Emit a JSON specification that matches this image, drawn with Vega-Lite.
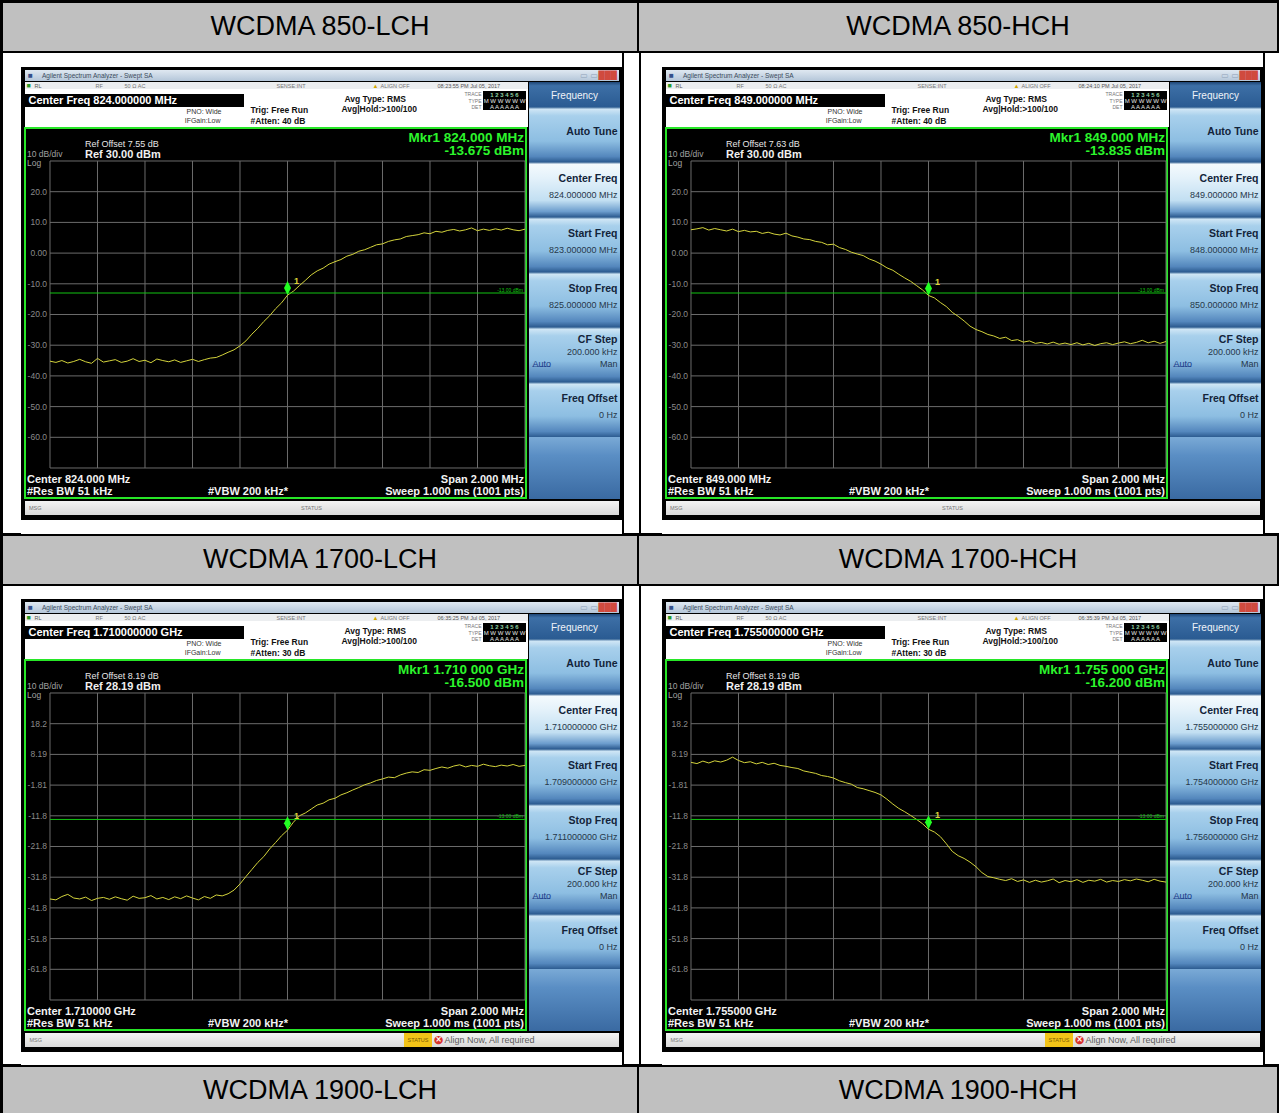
{
"$schema":"https://vega.github.io/schema/vega-lite/v6.json",
"background":"#000000",
"padding":{"left":3,"top":3,"right":2,"bottom":0},
"config":{"view":{"stroke":null},"font":"Liberation Sans","text":{"font":"Liberation Sans"}},
"datasets":{
"t1":[{"f":823.000,"db":-35.2},{"f":823.025,"db":-35.6},{"f":823.050,"db":-35.0},{"f":823.075,"db":-35.8},{"f":823.100,"db":-35.3},{"f":823.125,"db":-34.6},{"f":823.150,"db":-35.4},{"f":823.175,"db":-35.9},{"f":823.200,"db":-34.3},{"f":823.225,"db":-35.5},{"f":823.250,"db":-35.1},{"f":823.275,"db":-34.7},{"f":823.300,"db":-35.6},{"f":823.325,"db":-35.2},{"f":823.350,"db":-34.4},{"f":823.375,"db":-35.3},{"f":823.400,"db":-34.9},{"f":823.425,"db":-35.7},{"f":823.450,"db":-34.5},{"f":823.475,"db":-35.0},{"f":823.500,"db":-35.4},{"f":823.525,"db":-34.8},{"f":823.550,"db":-35.6},{"f":823.575,"db":-35.1},{"f":823.600,"db":-34.6},{"f":823.625,"db":-35.3},{"f":823.650,"db":-34.7},{"f":823.675,"db":-34.2},{"f":823.700,"db":-34.0},{"f":823.725,"db":-33.2},{"f":823.750,"db":-32.3},{"f":823.775,"db":-31.5},{"f":823.800,"db":-30.2},{"f":823.825,"db":-28.6},{"f":823.850,"db":-26.4},{"f":823.875,"db":-24.5},{"f":823.900,"db":-22.3},{"f":823.925,"db":-20.4},{"f":823.950,"db":-18.1},{"f":823.975,"db":-16.2},{"f":824.000,"db":-13.7},{"f":824.025,"db":-12.4},{"f":824.050,"db":-10.6},{"f":824.075,"db":-8.9},{"f":824.100,"db":-7.1},{"f":824.125,"db":-5.8},{"f":824.150,"db":-4.9},{"f":824.175,"db":-3.6},{"f":824.200,"db":-2.8},{"f":824.225,"db":-2.1},{"f":824.250,"db":-1.0},{"f":824.275,"db":-0.4},{"f":824.300,"db":0.6},{"f":824.325,"db":1.1},{"f":824.350,"db":1.9},{"f":824.375,"db":2.7},{"f":824.400,"db":3.0},{"f":824.425,"db":3.8},{"f":824.450,"db":4.3},{"f":824.475,"db":4.6},{"f":824.500,"db":5.4},{"f":824.525,"db":5.7},{"f":824.550,"db":6.0},{"f":824.575,"db":6.6},{"f":824.600,"db":6.3},{"f":824.625,"db":7.1},{"f":824.650,"db":6.8},{"f":824.675,"db":7.4},{"f":824.700,"db":7.7},{"f":824.725,"db":7.2},{"f":824.750,"db":7.6},{"f":824.775,"db":8.2},{"f":824.800,"db":7.3},{"f":824.825,"db":7.8},{"f":824.850,"db":7.4},{"f":824.875,"db":7.9},{"f":824.900,"db":7.5},{"f":824.925,"db":8.1},{"f":824.950,"db":7.6},{"f":824.975,"db":7.3},{"f":825.000,"db":7.8}],
"t2":[{"f":848.000,"db":7.6},{"f":848.025,"db":7.9},{"f":848.050,"db":8.3},{"f":848.075,"db":7.5},{"f":848.100,"db":8.0},{"f":848.125,"db":7.6},{"f":848.150,"db":7.2},{"f":848.175,"db":7.8},{"f":848.200,"db":7.0},{"f":848.225,"db":7.4},{"f":848.250,"db":6.9},{"f":848.275,"db":7.1},{"f":848.300,"db":6.4},{"f":848.325,"db":6.8},{"f":848.350,"db":6.2},{"f":848.375,"db":5.9},{"f":848.400,"db":6.5},{"f":848.425,"db":5.6},{"f":848.450,"db":5.2},{"f":848.475,"db":4.6},{"f":848.500,"db":4.4},{"f":848.525,"db":3.8},{"f":848.550,"db":3.5},{"f":848.575,"db":2.7},{"f":848.600,"db":2.9},{"f":848.625,"db":1.8},{"f":848.650,"db":1.2},{"f":848.675,"db":0.3},{"f":848.700,"db":-0.3},{"f":848.725,"db":-0.8},{"f":848.750,"db":-1.9},{"f":848.775,"db":-2.6},{"f":848.800,"db":-3.6},{"f":848.825,"db":-4.8},{"f":848.850,"db":-5.6},{"f":848.875,"db":-6.9},{"f":848.900,"db":-8.1},{"f":848.925,"db":-9.2},{"f":848.950,"db":-10.6},{"f":848.975,"db":-12.0},{"f":849.000,"db":-13.8},{"f":849.025,"db":-14.6},{"f":849.050,"db":-16.1},{"f":849.075,"db":-17.4},{"f":849.100,"db":-19.3},{"f":849.125,"db":-20.6},{"f":849.150,"db":-22.1},{"f":849.175,"db":-23.8},{"f":849.200,"db":-24.9},{"f":849.225,"db":-25.6},{"f":849.250,"db":-26.5},{"f":849.275,"db":-27.0},{"f":849.300,"db":-27.8},{"f":849.325,"db":-27.4},{"f":849.350,"db":-28.5},{"f":849.375,"db":-28.2},{"f":849.400,"db":-29.0},{"f":849.425,"db":-28.6},{"f":849.450,"db":-29.4},{"f":849.475,"db":-29.1},{"f":849.500,"db":-29.6},{"f":849.525,"db":-29.0},{"f":849.550,"db":-29.7},{"f":849.575,"db":-29.3},{"f":849.600,"db":-29.8},{"f":849.625,"db":-29.2},{"f":849.650,"db":-29.9},{"f":849.675,"db":-29.4},{"f":849.700,"db":-30.1},{"f":849.725,"db":-29.5},{"f":849.750,"db":-29.2},{"f":849.775,"db":-29.8},{"f":849.800,"db":-29.3},{"f":849.825,"db":-28.9},{"f":849.850,"db":-29.5},{"f":849.875,"db":-29.1},{"f":849.900,"db":-28.4},{"f":849.925,"db":-29.2},{"f":849.950,"db":-28.7},{"f":849.975,"db":-29.4},{"f":850.000,"db":-28.8}],
"t3":[{"f":1709.000,"db":-38.9},{"f":1709.025,"db":-39.2},{"f":1709.050,"db":-38.1},{"f":1709.075,"db":-37.4},{"f":1709.100,"db":-38.6},{"f":1709.125,"db":-38.9},{"f":1709.150,"db":-38.3},{"f":1709.175,"db":-39.4},{"f":1709.200,"db":-38.7},{"f":1709.225,"db":-38.4},{"f":1709.250,"db":-39.0},{"f":1709.275,"db":-38.2},{"f":1709.300,"db":-38.8},{"f":1709.325,"db":-39.3},{"f":1709.350,"db":-38.0},{"f":1709.375,"db":-38.7},{"f":1709.400,"db":-38.5},{"f":1709.425,"db":-37.8},{"f":1709.450,"db":-38.9},{"f":1709.475,"db":-38.4},{"f":1709.500,"db":-39.1},{"f":1709.525,"db":-38.2},{"f":1709.550,"db":-38.8},{"f":1709.575,"db":-37.9},{"f":1709.600,"db":-38.6},{"f":1709.625,"db":-39.2},{"f":1709.650,"db":-38.1},{"f":1709.675,"db":-38.7},{"f":1709.700,"db":-37.6},{"f":1709.725,"db":-37.9},{"f":1709.750,"db":-37.2},{"f":1709.775,"db":-36.0},{"f":1709.800,"db":-34.0},{"f":1709.825,"db":-31.6},{"f":1709.850,"db":-29.3},{"f":1709.875,"db":-27.0},{"f":1709.900,"db":-25.1},{"f":1709.925,"db":-22.6},{"f":1709.950,"db":-20.5},{"f":1709.975,"db":-18.3},{"f":1710.000,"db":-16.5},{"f":1710.025,"db":-13.9},{"f":1710.050,"db":-11.8},{"f":1710.075,"db":-10.9},{"f":1710.100,"db":-9.6},{"f":1710.125,"db":-8.3},{"f":1710.150,"db":-7.7},{"f":1710.175,"db":-6.6},{"f":1710.200,"db":-6.1},{"f":1710.225,"db":-5.0},{"f":1710.250,"db":-4.3},{"f":1710.275,"db":-3.4},{"f":1710.300,"db":-2.6},{"f":1710.325,"db":-1.7},{"f":1710.350,"db":-1.1},{"f":1710.375,"db":-0.3},{"f":1710.400,"db":0.2},{"f":1710.425,"db":0.8},{"f":1710.450,"db":0.6},{"f":1710.475,"db":1.5},{"f":1710.500,"db":2.1},{"f":1710.525,"db":2.5},{"f":1710.550,"db":2.3},{"f":1710.575,"db":3.2},{"f":1710.600,"db":3.0},{"f":1710.625,"db":3.6},{"f":1710.650,"db":4.1},{"f":1710.675,"db":3.7},{"f":1710.700,"db":4.4},{"f":1710.725,"db":4.8},{"f":1710.750,"db":4.1},{"f":1710.775,"db":4.6},{"f":1710.800,"db":4.3},{"f":1710.825,"db":5.0},{"f":1710.850,"db":4.5},{"f":1710.875,"db":4.2},{"f":1710.900,"db":4.7},{"f":1710.925,"db":4.4},{"f":1710.950,"db":4.9},{"f":1710.975,"db":4.3},{"f":1711.000,"db":4.6}],
"t4":[{"f":1754.000,"db":5.6},{"f":1754.025,"db":5.2},{"f":1754.050,"db":6.0},{"f":1754.075,"db":5.4},{"f":1754.100,"db":6.1},{"f":1754.125,"db":5.7},{"f":1754.150,"db":6.3},{"f":1754.175,"db":7.3},{"f":1754.200,"db":6.2},{"f":1754.225,"db":5.5},{"f":1754.250,"db":5.8},{"f":1754.275,"db":5.1},{"f":1754.300,"db":5.6},{"f":1754.325,"db":4.9},{"f":1754.350,"db":5.3},{"f":1754.375,"db":4.6},{"f":1754.400,"db":4.3},{"f":1754.425,"db":3.9},{"f":1754.450,"db":3.6},{"f":1754.475,"db":2.8},{"f":1754.500,"db":2.4},{"f":1754.525,"db":2.0},{"f":1754.550,"db":1.3},{"f":1754.575,"db":1.0},{"f":1754.600,"db":0.5},{"f":1754.625,"db":-0.4},{"f":1754.650,"db":-1.0},{"f":1754.675,"db":-1.5},{"f":1754.700,"db":-2.6},{"f":1754.725,"db":-3.0},{"f":1754.750,"db":-3.6},{"f":1754.775,"db":-4.2},{"f":1754.800,"db":-5.0},{"f":1754.825,"db":-6.4},{"f":1754.850,"db":-8.0},{"f":1754.875,"db":-9.4},{"f":1754.900,"db":-10.5},{"f":1754.925,"db":-11.7},{"f":1754.950,"db":-13.0},{"f":1754.975,"db":-14.4},{"f":1755.000,"db":-16.2},{"f":1755.025,"db":-17.1},{"f":1755.050,"db":-18.6},{"f":1755.075,"db":-20.9},{"f":1755.100,"db":-23.4},{"f":1755.125,"db":-24.8},{"f":1755.150,"db":-25.7},{"f":1755.175,"db":-26.9},{"f":1755.200,"db":-28.4},{"f":1755.225,"db":-30.3},{"f":1755.250,"db":-31.6},{"f":1755.275,"db":-32.0},{"f":1755.300,"db":-32.5},{"f":1755.325,"db":-32.9},{"f":1755.350,"db":-32.3},{"f":1755.375,"db":-33.2},{"f":1755.400,"db":-32.7},{"f":1755.425,"db":-33.5},{"f":1755.450,"db":-32.8},{"f":1755.475,"db":-33.4},{"f":1755.500,"db":-33.0},{"f":1755.525,"db":-32.4},{"f":1755.550,"db":-33.6},{"f":1755.575,"db":-32.9},{"f":1755.600,"db":-33.3},{"f":1755.625,"db":-32.6},{"f":1755.650,"db":-33.5},{"f":1755.675,"db":-32.8},{"f":1755.700,"db":-33.1},{"f":1755.725,"db":-32.5},{"f":1755.750,"db":-33.4},{"f":1755.775,"db":-32.9},{"f":1755.800,"db":-33.2},{"f":1755.825,"db":-32.6},{"f":1755.850,"db":-33.0},{"f":1755.875,"db":-32.4},{"f":1755.900,"db":-32.8},{"f":1755.925,"db":-33.3},{"f":1755.950,"db":-32.5},{"f":1755.975,"db":-33.1},{"f":1756.000,"db":-33.4}],
"gx1":[{"f":823},{"f":823.2},{"f":823.4},{"f":823.6},{"f":823.8},{"f":824},{"f":824.2},{"f":824.4},{"f":824.6},{"f":824.8},{"f":825}],
"gx2":[{"f":848},{"f":848.2},{"f":848.4},{"f":848.6},{"f":848.8},{"f":849},{"f":849.2},{"f":849.4},{"f":849.6},{"f":849.8},{"f":850}],
"gx3":[{"f":1709},{"f":1709.2},{"f":1709.4},{"f":1709.6},{"f":1709.8},{"f":1710},{"f":1710.2},{"f":1710.4},{"f":1710.6},{"f":1710.8},{"f":1711}],
"gx4":[{"f":1754},{"f":1754.2},{"f":1754.4},{"f":1754.6},{"f":1754.8},{"f":1755},{"f":1755.2},{"f":1755.4},{"f":1755.6},{"f":1755.8},{"f":1756}],
"gyA":[{"db":30,"lab":""},{"db":20,"lab":"20.0"},{"db":10,"lab":"10.0"},{"db":0,"lab":"0.00"},{"db":-10,"lab":"-10.0"},{"db":-20,"lab":"-20.0"},{"db":-30,"lab":"-30.0"},{"db":-40,"lab":"-40.0"},{"db":-50,"lab":"-50.0"},{"db":-60,"lab":"-60.0"},{"db":-70,"lab":""}],
"gyB":[{"db":28.19,"lab":""},{"db":18.19,"lab":"18.2"},{"db":8.19,"lab":"8.19"},{"db":-1.81,"lab":"-1.81"},{"db":-11.81,"lab":"-11.8"},{"db":-21.81,"lab":"-21.8"},{"db":-31.81,"lab":"-31.8"},{"db":-41.81,"lab":"-41.8"},{"db":-51.81,"lab":"-51.8"},{"db":-61.81,"lab":"-61.8"},{"db":-71.81,"lab":""}],
"k1":[{"k":"Auto Tune","v":""},{"k":"Center Freq","v":"824.000000 MHz"},{"k":"Start Freq","v":"823.000000 MHz"},{"k":"Stop Freq","v":"825.000000 MHz"},{"k":"CF Step","v":"200.000 kHz","v2":"Man"},{"k":"Freq Offset","v":"0 Hz"}],
"k2":[{"k":"Auto Tune","v":""},{"k":"Center Freq","v":"849.000000 MHz"},{"k":"Start Freq","v":"848.000000 MHz"},{"k":"Stop Freq","v":"850.000000 MHz"},{"k":"CF Step","v":"200.000 kHz","v2":"Man"},{"k":"Freq Offset","v":"0 Hz"}],
"k3":[{"k":"Auto Tune","v":""},{"k":"Center Freq","v":"1.710000000 GHz"},{"k":"Start Freq","v":"1.709000000 GHz"},{"k":"Stop Freq","v":"1.711000000 GHz"},{"k":"CF Step","v":"200.000 kHz","v2":"Man"},{"k":"Freq Offset","v":"0 Hz"}],
"k4":[{"k":"Auto Tune","v":""},{"k":"Center Freq","v":"1.755000000 GHz"},{"k":"Start Freq","v":"1.754000000 GHz"},{"k":"Stop Freq","v":"1.756000000 GHz"},{"k":"CF Step","v":"200.000 kHz","v2":"Man"},{"k":"Freq Offset","v":"0 Hz"}]
},
"spacing":2,
"vconcat":[
{"hconcat":[
 {"width":634,"height":48,"data":{"values":[{}]},"layer":[{"mark":{"type":"rect","color":"#c0c0c0"}},{"mark":{"type":"text","text":"WCDMA 850-LCH","fontSize":27,"color":"#000000"}}]},
 {"width":638,"height":48,"data":{"values":[{}]},"layer":[{"mark":{"type":"rect","color":"#c0c0c0"}},{"mark":{"type":"text","text":"WCDMA 850-HCH","fontSize":27,"color":"#000000"}}]}
],"spacing":2},
{"hconcat":[
 {"hconcat":[
  {"width":18,"height":480,"data":{"values":[{}]},"mark":{"type":"rect","color":"#ffffff"}},
  {"vconcat":[
   {"width":601,"height":14,"data":{"values":[{}]},"mark":{"type":"rect","color":"#ffffff"}},
   {"hconcat":[
    {"width":3,"height":452,"data":{"values":[]},"mark":"rect"},
    {"vconcat":[
     {"width":594,"height":3,"data":{"values":[]},"mark":"rect"},
     {"width":594,"height":11,"data":{"values":[{}]},"layer":[
      {"mark":{"type":"rect","color":{"gradient":"linear","x1":0,"y1":0,"x2":0,"y2":1,"stops":[{"offset":0,"color":"#dfe8f1"},{"offset":1,"color":"#b4c6d9"}]}}},
      {"mark":{"type":"text","text":"■","fontSize":8,"color":"#34508a","align":"left","dx":-294}},
      {"mark":{"type":"text","text":"Agilent Spectrum Analyzer - Swept SA","fontSize":6.5,"color":"#3a4a5c","align":"left","dx":-280}},
      {"mark":{"type":"text","text":"▭ ▭","font":"DejaVu Sans","fontSize":8,"color":"#8ea2b8","align":"right","dx":276}},
      {"mark":{"type":"text","text":"███","font":"DejaVu Sans","fontSize":8,"color":"#d04a3e","align":"right","dx":295}}
     ]},
     {"hconcat":[
      {"vconcat":[
       {"width":503,"height":7,"data":{"values":[{}]},"layer":[
        {"mark":{"type":"rect","color":"#eceef0"}},
        {"mark":{"type":"text","text":"■","fontSize":7,"color":"#2a9a2a","align":"left","dx":-250}},
        {"mark":{"type":"text","text":"RL","fontSize":5.5,"color":"#555555","align":"left","dx":-242}},
        {"mark":{"type":"text","text":"RF","fontSize":5.5,"color":"#777777","align":"left","dx":-181}},
        {"mark":{"type":"text","text":"50 Ω   AC","fontSize":5.5,"color":"#777777","align":"left","dx":-152}},
        {"mark":{"type":"text","text":"SENSE:INT","fontSize":5.5,"color":"#777777","align":"left","dx":0}},
        {"mark":{"type":"text","text":"▲","fontSize":6,"color":"#d4a800","align":"left","dx":96}},
        {"mark":{"type":"text","text":"ALIGN OFF","fontSize":5.5,"color":"#777777","align":"left","dx":104}},
        {"mark":{"type":"text","text":"08:23:55 PM Jul 05, 2017","fontSize":5.5,"color":"#555555","align":"left","dx":161}}
       ]},
       {"hconcat":[
        {"vconcat":[
         {"width":219,"height":5,"data":{"values":[{}]},"mark":{"type":"rect","color":"#ffffff"}},
         {"width":219,"height":13,"data":{"values":[{}]},"mark":{"type":"text","text":"Center Freq 824.000000 MHz","fontSize":11,"fontWeight":"bold","color":"#ffffff","align":"left","dx":-106}},
         {"width":219,"height":20,"data":{"values":[{}]},"layer":[
          {"mark":{"type":"rect","color":"#ffffff"}},
          {"mark":{"type":"text","text":"PNO: Wide","fontSize":7,"color":"#333333","align":"right","dx":87,"dy":-5}},
          {"mark":{"type":"text","text":"IFGain:Low","fontSize":7,"color":"#333333","align":"right","dx":86,"dy":4}}
         ]}
        ],"spacing":0},
        {"width":239,"height":38,"data":{"values":[{}]},"layer":[
         {"mark":{"type":"rect","color":"#ffffff"}},
         {"mark":{"type":"text","text":"Trig: Free Run","fontSize":8.5,"fontWeight":"bold","color":"#111111","align":"left","dx":-113,"dy":2}},
         {"mark":{"type":"text","text":"#Atten: 40 dB","fontSize":8.5,"fontWeight":"bold","color":"#111111","align":"left","dx":-113,"dy":13}},
         {"mark":{"type":"text","text":"Avg Type: RMS","fontSize":8.5,"fontWeight":"bold","color":"#111111","align":"left","dx":-19,"dy":-9}},
         {"mark":{"type":"text","text":"Avg|Hold:>100/100","fontSize":8.5,"fontWeight":"bold","color":"#111111","align":"left","dx":-22,"dy":1}},
         {"mark":{"type":"text","text":"TRACE","fontSize":5,"color":"#777777","align":"right","dx":118,"dy":-14}},
         {"mark":{"type":"text","text":"TYPE","fontSize":5,"color":"#777777","align":"right","dx":118,"dy":-7.5}},
         {"mark":{"type":"text","text":"DET","fontSize":5,"color":"#777777","align":"right","dx":118,"dy":-1}}
        ]},
        {"vconcat":[
         {"width":43,"height":2,"data":{"values":[{}]},"mark":{"type":"rect","color":"#ffffff"}},
         {"width":43,"height":19,"data":{"values":[{}]},"layer":[
          {"mark":{"type":"text","text":"1 2 3 4 5 6","fontSize":6,"fontWeight":"bold","color":"#8fd0a0","dy":-6}},
          {"mark":{"type":"text","text":"M W W W W W","fontSize":6,"color":"#e8e8e8"}},
          {"mark":{"type":"text","text":"A A A A A A","fontSize":6,"color":"#e8e8e8","dy":6}}
         ]},
         {"width":43,"height":17,"data":{"values":[{}]},"mark":{"type":"rect","color":"#ffffff"}}
        ],"spacing":0},
        {"width":2,"height":38,"data":{"values":[{}]},"mark":{"type":"rect","color":"#ffffff"}}
       ],"spacing":0},
       {"width":501,"height":370,"view":{"stroke":"#27e627","strokeWidth":2},
        "encoding":{"x":{"type":"quantitative","scale":{"domain":[822.89474,825.00421],"nice":false,"zero":false},"axis":null},"y":{"type":"quantitative","scale":{"domain":[-79.772,40.749],"nice":false,"zero":false},"axis":null}},
        "layer":[
         {"data":{"name":"gx1"},"mark":{"type":"rule","color":"#6c6c6c","strokeWidth":1},"encoding":{"x":{"field":"f"},"y":{"datum":30},"y2":{"datum":-70}}},
         {"data":{"name":"gyA"},"mark":{"type":"rule","color":"#6c6c6c","strokeWidth":1},"encoding":{"y":{"field":"db"},"x":{"datum":823},"x2":{"datum":825}}},
         {"data":{"name":"gyA"},"transform":[{"filter":"datum.lab != ''"}],"mark":{"type":"text","align":"right","baseline":"middle","dx":-3,"fontSize":8.5,"color":"#8a8a8a"},"encoding":{"y":{"field":"db"},"x":{"datum":823},"text":{"field":"lab"}}},
         {"data":{"name":"t1"},"mark":{"type":"line","color":"#d4d43c","strokeWidth":1},"encoding":{"x":{"field":"f"},"y":{"field":"db"}}},
         {"data":{"values":[{}]},"layer":[
          {"mark":{"type":"rule","color":"#12c412","strokeWidth":1},"encoding":{"x":{"datum":823},"x2":{"datum":825},"y":{"datum":-13}}},
          {"mark":{"type":"text","text":"-13.00 dBm","fontSize":5,"color":"#12c412","align":"right","dx":-2,"dy":-3},"encoding":{"x":{"datum":825},"y":{"datum":-13}}},
          {"mark":{"type":"text","text":"10 dB/div","fontSize":8.5,"color":"#a0a0a0","align":"left","baseline":"alphabetic","dx":-23,"dy":-4},"encoding":{"x":{"datum":823},"y":{"datum":30}}},
          {"mark":{"type":"text","text":"Log","fontSize":8.5,"color":"#a0a0a0","align":"left","baseline":"alphabetic","dx":-23,"dy":5},"encoding":{"x":{"datum":823},"y":{"datum":30}}},
          {"mark":{"type":"text","text":"Ref Offset 7.55 dB","fontSize":9,"color":"#e6e6e6","align":"left","baseline":"alphabetic","dx":35,"dy":-14},"encoding":{"x":{"datum":823},"y":{"datum":30}}},
          {"mark":{"type":"text","text":"Ref 30.00 dBm","fontSize":11,"fontWeight":"bold","color":"#f0f0f0","align":"left","baseline":"alphabetic","dx":35,"dy":-3},"encoding":{"x":{"datum":823},"y":{"datum":30}}},
          {"mark":{"type":"text","text":"Mkr1 824.000 MHz","fontSize":13.5,"fontWeight":"bold","color":"#2cf52c","align":"right","baseline":"alphabetic","dx":-1,"dy":-19},"encoding":{"x":{"datum":825},"y":{"datum":30}}},
          {"mark":{"type":"text","text":"-13.675 dBm","fontSize":13.5,"fontWeight":"bold","color":"#2cf52c","align":"right","baseline":"alphabetic","dx":-1,"dy":-6},"encoding":{"x":{"datum":825},"y":{"datum":30}}},
          {"mark":{"type":"text","text":"Center 824.000 MHz","fontSize":11,"fontWeight":"bold","color":"#f2f2f2","align":"left","baseline":"alphabetic","dx":-23,"dy":15},"encoding":{"x":{"datum":823},"y":{"datum":-70}}},
          {"mark":{"type":"text","text":"#Res BW 51 kHz","fontSize":11,"fontWeight":"bold","color":"#f2f2f2","align":"left","baseline":"alphabetic","dx":-23,"dy":27},"encoding":{"x":{"datum":823},"y":{"datum":-70}}},
          {"mark":{"type":"text","text":"#VBW 200 kHz*","fontSize":11,"fontWeight":"bold","color":"#f2f2f2","align":"left","baseline":"alphabetic","dx":158,"dy":27},"encoding":{"x":{"datum":823},"y":{"datum":-70}}},
          {"mark":{"type":"text","text":"Span 2.000 MHz","fontSize":11,"fontWeight":"bold","color":"#f2f2f2","align":"right","baseline":"alphabetic","dx":-1,"dy":15},"encoding":{"x":{"datum":825},"y":{"datum":-70}}},
          {"mark":{"type":"text","text":"Sweep  1.000 ms (1001 pts)","fontSize":11,"fontWeight":"bold","color":"#f2f2f2","align":"right","baseline":"alphabetic","dx":-1,"dy":27},"encoding":{"x":{"datum":825},"y":{"datum":-70}}}
         ]},
         {"data":{"values":[{"f":824.0,"db":-13.675}]},"encoding":{"x":{"field":"f"},"y":{"field":"db"}},"layer":[
          {"mark":{"type":"point","shape":"M0,-2L0.5,-1L0,0L-0.5,-1Z","size":196,"filled":true,"color":"#22ff22","opacity":1}},
          {"mark":{"type":"text","text":"1","fontSize":9,"fontWeight":"bold","color":"#dcd43a","dx":9,"dy":-14}}
         ]}
        ]}
      ],"spacing":0},
      {"vconcat":[
       {"width":91,"height":25,"data":{"values":[{}]},"layer":[
        {"mark":{"type":"rect","color":{"gradient":"linear","x1":0,"y1":0,"x2":0,"y2":1,"stops":[{"offset":0,"color":"#1f4676"},{"offset":0.15,"color":"#3d6fa6"},{"offset":1,"color":"#2a5b92"}]}}},
        {"mark":{"type":"text","text":"Frequency","fontSize":10,"color":"#eef3f8","dy":1}}
       ]},
       {"width":91,"height":330,"data":{"name":"k1"},"encoding":{"y":{"field":"k","type":"nominal","sort":null,"axis":null,"scale":{"paddingInner":0,"paddingOuter":0}}},"layer":[
        {"mark":{"type":"rect","color":{"gradient":"linear","x1":0,"y1":0,"x2":0,"y2":1,"stops":[{"offset":0,"color":"#2a5a8e"},{"offset":0.04,"color":"#cfe6f5"},{"offset":0.16,"color":"#a8d0ec"},{"offset":0.62,"color":"#8dbee2"},{"offset":0.9,"color":"#5487bd"},{"offset":1,"color":"#2c5b90"}]}}},
        {"transform":[{"filter":"datum.k == 'Center Freq'"}],"mark":{"type":"rect","color":{"gradient":"linear","x1":0,"y1":0,"x2":0,"y2":1,"stops":[{"offset":0,"color":"#2a5a8e"},{"offset":0.04,"color":"#f4fafd"},{"offset":0.3,"color":"#e3f1fa"},{"offset":0.7,"color":"#c2dff2"},{"offset":0.9,"color":"#6c9dcd"},{"offset":1,"color":"#2c5b90"}]}}},
        {"transform":[{"filter":"datum.v != '' && datum.k != 'CF Step'"}],"mark":{"type":"text","fontSize":10.5,"fontWeight":"bold","color":"#13243a","align":"right","baseline":"middle","dx":43,"dy":-11},"encoding":{"text":{"field":"k"}}},
        {"transform":[{"filter":"datum.k == 'Auto Tune'"}],"mark":{"type":"text","fontSize":10.5,"fontWeight":"bold","color":"#13243a","align":"right","baseline":"middle","dx":43,"dy":-3},"encoding":{"text":{"field":"k"}}},
        {"transform":[{"filter":"datum.k == 'CF Step'"}],"mark":{"type":"text","fontSize":10.5,"fontWeight":"bold","color":"#13243a","align":"right","baseline":"middle","dx":43,"dy":-15},"encoding":{"text":{"field":"k"}}},
        {"transform":[{"filter":"datum.v != '' && datum.k != 'CF Step'"}],"mark":{"type":"text","fontSize":9,"color":"#26374a","align":"right","baseline":"middle","dx":43,"dy":5},"encoding":{"text":{"field":"v"}}},
        {"transform":[{"filter":"datum.k == 'CF Step'"}],"mark":{"type":"text","fontSize":9,"color":"#26374a","align":"right","baseline":"middle","dx":43,"dy":-3},"encoding":{"text":{"field":"v"}}},
        {"transform":[{"filter":"datum.k == 'CF Step'"}],"mark":{"type":"text","fontSize":9,"color":"#26374a","align":"right","baseline":"middle","dx":43,"dy":9},"encoding":{"text":{"field":"v2"}}},
        {"transform":[{"filter":"datum.k == 'CF Step'"}],"mark":{"type":"text","text":"Auto","fontSize":9,"color":"#1b3a8a","align":"left","baseline":"middle","dx":-42,"dy":9}},
        {"transform":[{"filter":"datum.k == 'CF Step'"}],"mark":{"type":"text","text":"____","fontSize":8,"color":"#1b3a8a","align":"left","baseline":"middle","dx":-42,"dy":8}}
       ]},
       {"width":91,"height":62,"data":{"values":[{}]},"mark":{"type":"rect","color":{"gradient":"linear","x1":0,"y1":0,"x2":0,"y2":1,"stops":[{"offset":0,"color":"#7aaad6"},{"offset":0.3,"color":"#5a8ec4"},{"offset":1,"color":"#3a6aa2"}]}}}
      ],"spacing":0}
     ],"spacing":0},
     {"width":594,"height":2,"data":{"values":[]},"mark":"rect"},
     {"width":594,"height":14,"data":{"values":[{}]},"layer":[
      {"mark":{"type":"rect","color":{"gradient":"linear","x1":0,"y1":0,"x2":0,"y2":1,"stops":[{"offset":0,"color":"#f3f3f3"},{"offset":1,"color":"#d9d9d9"}]}}},
      {"mark":{"type":"text","text":"MSG","fontSize":5.5,"color":"#777777","align":"left","dx":-293}},
      {"mark":{"type":"text","text":"STATUS","fontSize":5.5,"color":"#777777","align":"left","dx":-21}}
     ]},
     {"width":594,"height":5,"data":{"values":[]},"mark":"rect"}
    ],"spacing":0},
    {"width":4,"height":452,"data":{"values":[]},"mark":"rect"}
   ],"spacing":0},
   {"width":601,"height":14,"data":{"values":[{}]},"mark":{"type":"rect","color":"#ffffff"}}
  ],"spacing":0},
  {"width":15,"height":480,"data":{"values":[{}]},"mark":{"type":"rect","color":"#ffffff"}}
 ],"spacing":0},
 {"hconcat":[
  {"width":21,"height":480,"data":{"values":[{}]},"mark":{"type":"rect","color":"#ffffff"}},
  {"vconcat":[
   {"width":601,"height":14,"data":{"values":[{}]},"mark":{"type":"rect","color":"#ffffff"}},
   {"hconcat":[
    {"width":3,"height":452,"data":{"values":[]},"mark":"rect"},
    {"vconcat":[
     {"width":594,"height":3,"data":{"values":[]},"mark":"rect"},
     {"width":594,"height":11,"data":{"values":[{}]},"layer":[
      {"mark":{"type":"rect","color":{"gradient":"linear","x1":0,"y1":0,"x2":0,"y2":1,"stops":[{"offset":0,"color":"#dfe8f1"},{"offset":1,"color":"#b4c6d9"}]}}},
      {"mark":{"type":"text","text":"■","fontSize":8,"color":"#34508a","align":"left","dx":-294}},
      {"mark":{"type":"text","text":"Agilent Spectrum Analyzer - Swept SA","fontSize":6.5,"color":"#3a4a5c","align":"left","dx":-280}},
      {"mark":{"type":"text","text":"▭ ▭","font":"DejaVu Sans","fontSize":8,"color":"#8ea2b8","align":"right","dx":276}},
      {"mark":{"type":"text","text":"███","font":"DejaVu Sans","fontSize":8,"color":"#d04a3e","align":"right","dx":295}}
     ]},
     {"hconcat":[
      {"vconcat":[
       {"width":503,"height":7,"data":{"values":[{}]},"layer":[
        {"mark":{"type":"rect","color":"#eceef0"}},
        {"mark":{"type":"text","text":"■","fontSize":7,"color":"#2a9a2a","align":"left","dx":-250}},
        {"mark":{"type":"text","text":"RL","fontSize":5.5,"color":"#555555","align":"left","dx":-242}},
        {"mark":{"type":"text","text":"RF","fontSize":5.5,"color":"#777777","align":"left","dx":-181}},
        {"mark":{"type":"text","text":"50 Ω   AC","fontSize":5.5,"color":"#777777","align":"left","dx":-152}},
        {"mark":{"type":"text","text":"SENSE:INT","fontSize":5.5,"color":"#777777","align":"left","dx":0}},
        {"mark":{"type":"text","text":"▲","fontSize":6,"color":"#d4a800","align":"left","dx":96}},
        {"mark":{"type":"text","text":"ALIGN OFF","fontSize":5.5,"color":"#777777","align":"left","dx":104}},
        {"mark":{"type":"text","text":"08:24:10 PM Jul 05, 2017","fontSize":5.5,"color":"#555555","align":"left","dx":161}}
       ]},
       {"hconcat":[
        {"vconcat":[
         {"width":219,"height":5,"data":{"values":[{}]},"mark":{"type":"rect","color":"#ffffff"}},
         {"width":219,"height":13,"data":{"values":[{}]},"mark":{"type":"text","text":"Center Freq 849.000000 MHz","fontSize":11,"fontWeight":"bold","color":"#ffffff","align":"left","dx":-106}},
         {"width":219,"height":20,"data":{"values":[{}]},"layer":[
          {"mark":{"type":"rect","color":"#ffffff"}},
          {"mark":{"type":"text","text":"PNO: Wide","fontSize":7,"color":"#333333","align":"right","dx":87,"dy":-5}},
          {"mark":{"type":"text","text":"IFGain:Low","fontSize":7,"color":"#333333","align":"right","dx":86,"dy":4}}
         ]}
        ],"spacing":0},
        {"width":239,"height":38,"data":{"values":[{}]},"layer":[
         {"mark":{"type":"rect","color":"#ffffff"}},
         {"mark":{"type":"text","text":"Trig: Free Run","fontSize":8.5,"fontWeight":"bold","color":"#111111","align":"left","dx":-113,"dy":2}},
         {"mark":{"type":"text","text":"#Atten: 40 dB","fontSize":8.5,"fontWeight":"bold","color":"#111111","align":"left","dx":-113,"dy":13}},
         {"mark":{"type":"text","text":"Avg Type: RMS","fontSize":8.5,"fontWeight":"bold","color":"#111111","align":"left","dx":-19,"dy":-9}},
         {"mark":{"type":"text","text":"Avg|Hold:>100/100","fontSize":8.5,"fontWeight":"bold","color":"#111111","align":"left","dx":-22,"dy":1}},
         {"mark":{"type":"text","text":"TRACE","fontSize":5,"color":"#777777","align":"right","dx":118,"dy":-14}},
         {"mark":{"type":"text","text":"TYPE","fontSize":5,"color":"#777777","align":"right","dx":118,"dy":-7.5}},
         {"mark":{"type":"text","text":"DET","fontSize":5,"color":"#777777","align":"right","dx":118,"dy":-1}}
        ]},
        {"vconcat":[
         {"width":43,"height":2,"data":{"values":[{}]},"mark":{"type":"rect","color":"#ffffff"}},
         {"width":43,"height":19,"data":{"values":[{}]},"layer":[
          {"mark":{"type":"text","text":"1 2 3 4 5 6","fontSize":6,"fontWeight":"bold","color":"#8fd0a0","dy":-6}},
          {"mark":{"type":"text","text":"M W W W W W","fontSize":6,"color":"#e8e8e8"}},
          {"mark":{"type":"text","text":"A A A A A A","fontSize":6,"color":"#e8e8e8","dy":6}}
         ]},
         {"width":43,"height":17,"data":{"values":[{}]},"mark":{"type":"rect","color":"#ffffff"}}
        ],"spacing":0},
        {"width":2,"height":38,"data":{"values":[{}]},"mark":{"type":"rect","color":"#ffffff"}}
       ],"spacing":0},
       {"width":501,"height":370,"view":{"stroke":"#27e627","strokeWidth":2},
        "encoding":{"x":{"type":"quantitative","scale":{"domain":[847.89474,850.00421],"nice":false,"zero":false},"axis":null},"y":{"type":"quantitative","scale":{"domain":[-79.772,40.749],"nice":false,"zero":false},"axis":null}},
        "layer":[
         {"data":{"name":"gx2"},"mark":{"type":"rule","color":"#6c6c6c","strokeWidth":1},"encoding":{"x":{"field":"f"},"y":{"datum":30},"y2":{"datum":-70}}},
         {"data":{"name":"gyA"},"mark":{"type":"rule","color":"#6c6c6c","strokeWidth":1},"encoding":{"y":{"field":"db"},"x":{"datum":848},"x2":{"datum":850}}},
         {"data":{"name":"gyA"},"transform":[{"filter":"datum.lab != ''"}],"mark":{"type":"text","align":"right","baseline":"middle","dx":-3,"fontSize":8.5,"color":"#8a8a8a"},"encoding":{"y":{"field":"db"},"x":{"datum":848},"text":{"field":"lab"}}},
         {"data":{"name":"t2"},"mark":{"type":"line","color":"#d4d43c","strokeWidth":1},"encoding":{"x":{"field":"f"},"y":{"field":"db"}}},
         {"data":{"values":[{}]},"layer":[
          {"mark":{"type":"rule","color":"#12c412","strokeWidth":1},"encoding":{"x":{"datum":848},"x2":{"datum":850},"y":{"datum":-13}}},
          {"mark":{"type":"text","text":"-13.00 dBm","fontSize":5,"color":"#12c412","align":"right","dx":-2,"dy":-3},"encoding":{"x":{"datum":850},"y":{"datum":-13}}},
          {"mark":{"type":"text","text":"10 dB/div","fontSize":8.5,"color":"#a0a0a0","align":"left","baseline":"alphabetic","dx":-23,"dy":-4},"encoding":{"x":{"datum":848},"y":{"datum":30}}},
          {"mark":{"type":"text","text":"Log","fontSize":8.5,"color":"#a0a0a0","align":"left","baseline":"alphabetic","dx":-23,"dy":5},"encoding":{"x":{"datum":848},"y":{"datum":30}}},
          {"mark":{"type":"text","text":"Ref Offset 7.63 dB","fontSize":9,"color":"#e6e6e6","align":"left","baseline":"alphabetic","dx":35,"dy":-14},"encoding":{"x":{"datum":848},"y":{"datum":30}}},
          {"mark":{"type":"text","text":"Ref 30.00 dBm","fontSize":11,"fontWeight":"bold","color":"#f0f0f0","align":"left","baseline":"alphabetic","dx":35,"dy":-3},"encoding":{"x":{"datum":848},"y":{"datum":30}}},
          {"mark":{"type":"text","text":"Mkr1 849.000 MHz","fontSize":13.5,"fontWeight":"bold","color":"#2cf52c","align":"right","baseline":"alphabetic","dx":-1,"dy":-19},"encoding":{"x":{"datum":850},"y":{"datum":30}}},
          {"mark":{"type":"text","text":"-13.835 dBm","fontSize":13.5,"fontWeight":"bold","color":"#2cf52c","align":"right","baseline":"alphabetic","dx":-1,"dy":-6},"encoding":{"x":{"datum":850},"y":{"datum":30}}},
          {"mark":{"type":"text","text":"Center 849.000 MHz","fontSize":11,"fontWeight":"bold","color":"#f2f2f2","align":"left","baseline":"alphabetic","dx":-23,"dy":15},"encoding":{"x":{"datum":848},"y":{"datum":-70}}},
          {"mark":{"type":"text","text":"#Res BW 51 kHz","fontSize":11,"fontWeight":"bold","color":"#f2f2f2","align":"left","baseline":"alphabetic","dx":-23,"dy":27},"encoding":{"x":{"datum":848},"y":{"datum":-70}}},
          {"mark":{"type":"text","text":"#VBW 200 kHz*","fontSize":11,"fontWeight":"bold","color":"#f2f2f2","align":"left","baseline":"alphabetic","dx":158,"dy":27},"encoding":{"x":{"datum":848},"y":{"datum":-70}}},
          {"mark":{"type":"text","text":"Span 2.000 MHz","fontSize":11,"fontWeight":"bold","color":"#f2f2f2","align":"right","baseline":"alphabetic","dx":-1,"dy":15},"encoding":{"x":{"datum":850},"y":{"datum":-70}}},
          {"mark":{"type":"text","text":"Sweep  1.000 ms (1001 pts)","fontSize":11,"fontWeight":"bold","color":"#f2f2f2","align":"right","baseline":"alphabetic","dx":-1,"dy":27},"encoding":{"x":{"datum":850},"y":{"datum":-70}}}
         ]},
         {"data":{"values":[{"f":849.0,"db":-13.835}]},"encoding":{"x":{"field":"f"},"y":{"field":"db"}},"layer":[
          {"mark":{"type":"point","shape":"M0,-2L0.5,-1L0,0L-0.5,-1Z","size":196,"filled":true,"color":"#22ff22","opacity":1}},
          {"mark":{"type":"text","text":"1","fontSize":9,"fontWeight":"bold","color":"#dcd43a","dx":9,"dy":-14}}
         ]}
        ]}
      ],"spacing":0},
      {"vconcat":[
       {"width":91,"height":25,"data":{"values":[{}]},"layer":[
        {"mark":{"type":"rect","color":{"gradient":"linear","x1":0,"y1":0,"x2":0,"y2":1,"stops":[{"offset":0,"color":"#1f4676"},{"offset":0.15,"color":"#3d6fa6"},{"offset":1,"color":"#2a5b92"}]}}},
        {"mark":{"type":"text","text":"Frequency","fontSize":10,"color":"#eef3f8","dy":1}}
       ]},
       {"width":91,"height":330,"data":{"name":"k2"},"encoding":{"y":{"field":"k","type":"nominal","sort":null,"axis":null,"scale":{"paddingInner":0,"paddingOuter":0}}},"layer":[
        {"mark":{"type":"rect","color":{"gradient":"linear","x1":0,"y1":0,"x2":0,"y2":1,"stops":[{"offset":0,"color":"#2a5a8e"},{"offset":0.04,"color":"#cfe6f5"},{"offset":0.16,"color":"#a8d0ec"},{"offset":0.62,"color":"#8dbee2"},{"offset":0.9,"color":"#5487bd"},{"offset":1,"color":"#2c5b90"}]}}},
        {"transform":[{"filter":"datum.k == 'Center Freq'"}],"mark":{"type":"rect","color":{"gradient":"linear","x1":0,"y1":0,"x2":0,"y2":1,"stops":[{"offset":0,"color":"#2a5a8e"},{"offset":0.04,"color":"#f4fafd"},{"offset":0.3,"color":"#e3f1fa"},{"offset":0.7,"color":"#c2dff2"},{"offset":0.9,"color":"#6c9dcd"},{"offset":1,"color":"#2c5b90"}]}}},
        {"transform":[{"filter":"datum.v != '' && datum.k != 'CF Step'"}],"mark":{"type":"text","fontSize":10.5,"fontWeight":"bold","color":"#13243a","align":"right","baseline":"middle","dx":43,"dy":-11},"encoding":{"text":{"field":"k"}}},
        {"transform":[{"filter":"datum.k == 'Auto Tune'"}],"mark":{"type":"text","fontSize":10.5,"fontWeight":"bold","color":"#13243a","align":"right","baseline":"middle","dx":43,"dy":-3},"encoding":{"text":{"field":"k"}}},
        {"transform":[{"filter":"datum.k == 'CF Step'"}],"mark":{"type":"text","fontSize":10.5,"fontWeight":"bold","color":"#13243a","align":"right","baseline":"middle","dx":43,"dy":-15},"encoding":{"text":{"field":"k"}}},
        {"transform":[{"filter":"datum.v != '' && datum.k != 'CF Step'"}],"mark":{"type":"text","fontSize":9,"color":"#26374a","align":"right","baseline":"middle","dx":43,"dy":5},"encoding":{"text":{"field":"v"}}},
        {"transform":[{"filter":"datum.k == 'CF Step'"}],"mark":{"type":"text","fontSize":9,"color":"#26374a","align":"right","baseline":"middle","dx":43,"dy":-3},"encoding":{"text":{"field":"v"}}},
        {"transform":[{"filter":"datum.k == 'CF Step'"}],"mark":{"type":"text","fontSize":9,"color":"#26374a","align":"right","baseline":"middle","dx":43,"dy":9},"encoding":{"text":{"field":"v2"}}},
        {"transform":[{"filter":"datum.k == 'CF Step'"}],"mark":{"type":"text","text":"Auto","fontSize":9,"color":"#1b3a8a","align":"left","baseline":"middle","dx":-42,"dy":9}},
        {"transform":[{"filter":"datum.k == 'CF Step'"}],"mark":{"type":"text","text":"____","fontSize":8,"color":"#1b3a8a","align":"left","baseline":"middle","dx":-42,"dy":8}}
       ]},
       {"width":91,"height":62,"data":{"values":[{}]},"mark":{"type":"rect","color":{"gradient":"linear","x1":0,"y1":0,"x2":0,"y2":1,"stops":[{"offset":0,"color":"#7aaad6"},{"offset":0.3,"color":"#5a8ec4"},{"offset":1,"color":"#3a6aa2"}]}}}
      ],"spacing":0}
     ],"spacing":0},
     {"width":594,"height":2,"data":{"values":[]},"mark":"rect"},
     {"width":594,"height":14,"data":{"values":[{}]},"layer":[
      {"mark":{"type":"rect","color":{"gradient":"linear","x1":0,"y1":0,"x2":0,"y2":1,"stops":[{"offset":0,"color":"#f3f3f3"},{"offset":1,"color":"#d9d9d9"}]}}},
      {"mark":{"type":"text","text":"MSG","fontSize":5.5,"color":"#777777","align":"left","dx":-293}},
      {"mark":{"type":"text","text":"STATUS","fontSize":5.5,"color":"#777777","align":"left","dx":-21}}
     ]},
     {"width":594,"height":5,"data":{"values":[]},"mark":"rect"}
    ],"spacing":0},
    {"width":4,"height":452,"data":{"values":[]},"mark":"rect"}
   ],"spacing":0},
   {"width":601,"height":14,"data":{"values":[{}]},"mark":{"type":"rect","color":"#ffffff"}}
  ],"spacing":0},
  {"width":16,"height":480,"data":{"values":[{}]},"mark":{"type":"rect","color":"#ffffff"}}
 ],"spacing":0}
],"spacing":2},
{"hconcat":[
 {"width":634,"height":48,"data":{"values":[{}]},"layer":[{"mark":{"type":"rect","color":"#c0c0c0"}},{"mark":{"type":"text","text":"WCDMA 1700-LCH","fontSize":27,"color":"#000000"}}]},
 {"width":638,"height":48,"data":{"values":[{}]},"layer":[{"mark":{"type":"rect","color":"#c0c0c0"}},{"mark":{"type":"text","text":"WCDMA 1700-HCH","fontSize":27,"color":"#000000"}}]}
],"spacing":2},
{"hconcat":[
 {"hconcat":[
  {"width":18,"height":478,"data":{"values":[{}]},"mark":{"type":"rect","color":"#ffffff"}},
  {"vconcat":[
   {"width":601,"height":13,"data":{"values":[{}]},"mark":{"type":"rect","color":"#ffffff"}},
   {"hconcat":[
    {"width":3,"height":452,"data":{"values":[]},"mark":"rect"},
    {"vconcat":[
     {"width":594,"height":3,"data":{"values":[]},"mark":"rect"},
     {"width":594,"height":11,"data":{"values":[{}]},"layer":[
      {"mark":{"type":"rect","color":{"gradient":"linear","x1":0,"y1":0,"x2":0,"y2":1,"stops":[{"offset":0,"color":"#dfe8f1"},{"offset":1,"color":"#b4c6d9"}]}}},
      {"mark":{"type":"text","text":"■","fontSize":8,"color":"#34508a","align":"left","dx":-294}},
      {"mark":{"type":"text","text":"Agilent Spectrum Analyzer - Swept SA","fontSize":6.5,"color":"#3a4a5c","align":"left","dx":-280}},
      {"mark":{"type":"text","text":"▭ ▭","font":"DejaVu Sans","fontSize":8,"color":"#8ea2b8","align":"right","dx":276}},
      {"mark":{"type":"text","text":"███","font":"DejaVu Sans","fontSize":8,"color":"#d04a3e","align":"right","dx":295}}
     ]},
     {"hconcat":[
      {"vconcat":[
       {"width":503,"height":7,"data":{"values":[{}]},"layer":[
        {"mark":{"type":"rect","color":"#eceef0"}},
        {"mark":{"type":"text","text":"■","fontSize":7,"color":"#2a9a2a","align":"left","dx":-250}},
        {"mark":{"type":"text","text":"RL","fontSize":5.5,"color":"#555555","align":"left","dx":-242}},
        {"mark":{"type":"text","text":"RF","fontSize":5.5,"color":"#777777","align":"left","dx":-181}},
        {"mark":{"type":"text","text":"50 Ω   AC","fontSize":5.5,"color":"#777777","align":"left","dx":-152}},
        {"mark":{"type":"text","text":"SENSE:INT","fontSize":5.5,"color":"#777777","align":"left","dx":0}},
        {"mark":{"type":"text","text":"▲","fontSize":6,"color":"#d4a800","align":"left","dx":96}},
        {"mark":{"type":"text","text":"ALIGN OFF","fontSize":5.5,"color":"#777777","align":"left","dx":104}},
        {"mark":{"type":"text","text":"06:35:25 PM Jul 05, 2017","fontSize":5.5,"color":"#555555","align":"left","dx":161}}
       ]},
       {"hconcat":[
        {"vconcat":[
         {"width":219,"height":5,"data":{"values":[{}]},"mark":{"type":"rect","color":"#ffffff"}},
         {"width":219,"height":13,"data":{"values":[{}]},"mark":{"type":"text","text":"Center Freq 1.710000000 GHz","fontSize":11,"fontWeight":"bold","color":"#ffffff","align":"left","dx":-106}},
         {"width":219,"height":20,"data":{"values":[{}]},"layer":[
          {"mark":{"type":"rect","color":"#ffffff"}},
          {"mark":{"type":"text","text":"PNO: Wide","fontSize":7,"color":"#333333","align":"right","dx":87,"dy":-5}},
          {"mark":{"type":"text","text":"IFGain:Low","fontSize":7,"color":"#333333","align":"right","dx":86,"dy":4}}
         ]}
        ],"spacing":0},
        {"width":239,"height":38,"data":{"values":[{}]},"layer":[
         {"mark":{"type":"rect","color":"#ffffff"}},
         {"mark":{"type":"text","text":"Trig: Free Run","fontSize":8.5,"fontWeight":"bold","color":"#111111","align":"left","dx":-113,"dy":2}},
         {"mark":{"type":"text","text":"#Atten: 30 dB","fontSize":8.5,"fontWeight":"bold","color":"#111111","align":"left","dx":-113,"dy":13}},
         {"mark":{"type":"text","text":"Avg Type: RMS","fontSize":8.5,"fontWeight":"bold","color":"#111111","align":"left","dx":-19,"dy":-9}},
         {"mark":{"type":"text","text":"Avg|Hold:>100/100","fontSize":8.5,"fontWeight":"bold","color":"#111111","align":"left","dx":-22,"dy":1}},
         {"mark":{"type":"text","text":"TRACE","fontSize":5,"color":"#777777","align":"right","dx":118,"dy":-14}},
         {"mark":{"type":"text","text":"TYPE","fontSize":5,"color":"#777777","align":"right","dx":118,"dy":-7.5}},
         {"mark":{"type":"text","text":"DET","fontSize":5,"color":"#777777","align":"right","dx":118,"dy":-1}}
        ]},
        {"vconcat":[
         {"width":43,"height":2,"data":{"values":[{}]},"mark":{"type":"rect","color":"#ffffff"}},
         {"width":43,"height":19,"data":{"values":[{}]},"layer":[
          {"mark":{"type":"text","text":"1 2 3 4 5 6","fontSize":6,"fontWeight":"bold","color":"#8fd0a0","dy":-6}},
          {"mark":{"type":"text","text":"M W W W W W","fontSize":6,"color":"#e8e8e8"}},
          {"mark":{"type":"text","text":"A A A A A A","fontSize":6,"color":"#e8e8e8","dy":6}}
         ]},
         {"width":43,"height":17,"data":{"values":[{}]},"mark":{"type":"rect","color":"#ffffff"}}
        ],"spacing":0},
        {"width":2,"height":38,"data":{"values":[{}]},"mark":{"type":"rect","color":"#ffffff"}}
       ],"spacing":0},
       {"width":501,"height":370,"view":{"stroke":"#27e627","strokeWidth":2},
        "encoding":{"x":{"type":"quantitative","scale":{"domain":[1708.89474,1711.00421],"nice":false,"zero":false},"axis":null},"y":{"type":"quantitative","scale":{"domain":[-81.582,38.939],"nice":false,"zero":false},"axis":null}},
        "layer":[
         {"data":{"name":"gx3"},"mark":{"type":"rule","color":"#6c6c6c","strokeWidth":1},"encoding":{"x":{"field":"f"},"y":{"datum":28.19},"y2":{"datum":-71.81}}},
         {"data":{"name":"gyB"},"mark":{"type":"rule","color":"#6c6c6c","strokeWidth":1},"encoding":{"y":{"field":"db"},"x":{"datum":1709},"x2":{"datum":1711}}},
         {"data":{"name":"gyB"},"transform":[{"filter":"datum.lab != ''"}],"mark":{"type":"text","align":"right","baseline":"middle","dx":-3,"fontSize":8.5,"color":"#8a8a8a"},"encoding":{"y":{"field":"db"},"x":{"datum":1709},"text":{"field":"lab"}}},
         {"data":{"name":"t3"},"mark":{"type":"line","color":"#d4d43c","strokeWidth":1},"encoding":{"x":{"field":"f"},"y":{"field":"db"}}},
         {"data":{"values":[{}]},"layer":[
          {"mark":{"type":"rule","color":"#12c412","strokeWidth":1},"encoding":{"x":{"datum":1709},"x2":{"datum":1711},"y":{"datum":-13}}},
          {"mark":{"type":"text","text":"-13.00 dBm","fontSize":5,"color":"#12c412","align":"right","dx":-2,"dy":-3},"encoding":{"x":{"datum":1711},"y":{"datum":-13}}},
          {"mark":{"type":"text","text":"10 dB/div","fontSize":8.5,"color":"#a0a0a0","align":"left","baseline":"alphabetic","dx":-23,"dy":-4},"encoding":{"x":{"datum":1709},"y":{"datum":28.19}}},
          {"mark":{"type":"text","text":"Log","fontSize":8.5,"color":"#a0a0a0","align":"left","baseline":"alphabetic","dx":-23,"dy":5},"encoding":{"x":{"datum":1709},"y":{"datum":28.19}}},
          {"mark":{"type":"text","text":"Ref Offset 8.19 dB","fontSize":9,"color":"#e6e6e6","align":"left","baseline":"alphabetic","dx":35,"dy":-14},"encoding":{"x":{"datum":1709},"y":{"datum":28.19}}},
          {"mark":{"type":"text","text":"Ref 28.19 dBm","fontSize":11,"fontWeight":"bold","color":"#f0f0f0","align":"left","baseline":"alphabetic","dx":35,"dy":-3},"encoding":{"x":{"datum":1709},"y":{"datum":28.19}}},
          {"mark":{"type":"text","text":"Mkr1 1.710 000 GHz","fontSize":13.5,"fontWeight":"bold","color":"#2cf52c","align":"right","baseline":"alphabetic","dx":-1,"dy":-19},"encoding":{"x":{"datum":1711},"y":{"datum":28.19}}},
          {"mark":{"type":"text","text":"-16.500 dBm","fontSize":13.5,"fontWeight":"bold","color":"#2cf52c","align":"right","baseline":"alphabetic","dx":-1,"dy":-6},"encoding":{"x":{"datum":1711},"y":{"datum":28.19}}},
          {"mark":{"type":"text","text":"Center 1.710000 GHz","fontSize":11,"fontWeight":"bold","color":"#f2f2f2","align":"left","baseline":"alphabetic","dx":-23,"dy":15},"encoding":{"x":{"datum":1709},"y":{"datum":-71.81}}},
          {"mark":{"type":"text","text":"#Res BW 51 kHz","fontSize":11,"fontWeight":"bold","color":"#f2f2f2","align":"left","baseline":"alphabetic","dx":-23,"dy":27},"encoding":{"x":{"datum":1709},"y":{"datum":-71.81}}},
          {"mark":{"type":"text","text":"#VBW 200 kHz*","fontSize":11,"fontWeight":"bold","color":"#f2f2f2","align":"left","baseline":"alphabetic","dx":158,"dy":27},"encoding":{"x":{"datum":1709},"y":{"datum":-71.81}}},
          {"mark":{"type":"text","text":"Span 2.000 MHz","fontSize":11,"fontWeight":"bold","color":"#f2f2f2","align":"right","baseline":"alphabetic","dx":-1,"dy":15},"encoding":{"x":{"datum":1711},"y":{"datum":-71.81}}},
          {"mark":{"type":"text","text":"Sweep  1.000 ms (1001 pts)","fontSize":11,"fontWeight":"bold","color":"#f2f2f2","align":"right","baseline":"alphabetic","dx":-1,"dy":27},"encoding":{"x":{"datum":1711},"y":{"datum":-71.81}}}
         ]},
         {"data":{"values":[{"f":1710.0,"db":-16.5}]},"encoding":{"x":{"field":"f"},"y":{"field":"db"}},"layer":[
          {"mark":{"type":"point","shape":"M0,-2L0.5,-1L0,0L-0.5,-1Z","size":196,"filled":true,"color":"#22ff22","opacity":1}},
          {"mark":{"type":"text","text":"1","fontSize":9,"fontWeight":"bold","color":"#dcd43a","dx":9,"dy":-14}}
         ]}
        ]}
      ],"spacing":0},
      {"vconcat":[
       {"width":91,"height":25,"data":{"values":[{}]},"layer":[
        {"mark":{"type":"rect","color":{"gradient":"linear","x1":0,"y1":0,"x2":0,"y2":1,"stops":[{"offset":0,"color":"#1f4676"},{"offset":0.15,"color":"#3d6fa6"},{"offset":1,"color":"#2a5b92"}]}}},
        {"mark":{"type":"text","text":"Frequency","fontSize":10,"color":"#eef3f8","dy":1}}
       ]},
       {"width":91,"height":330,"data":{"name":"k3"},"encoding":{"y":{"field":"k","type":"nominal","sort":null,"axis":null,"scale":{"paddingInner":0,"paddingOuter":0}}},"layer":[
        {"mark":{"type":"rect","color":{"gradient":"linear","x1":0,"y1":0,"x2":0,"y2":1,"stops":[{"offset":0,"color":"#2a5a8e"},{"offset":0.04,"color":"#cfe6f5"},{"offset":0.16,"color":"#a8d0ec"},{"offset":0.62,"color":"#8dbee2"},{"offset":0.9,"color":"#5487bd"},{"offset":1,"color":"#2c5b90"}]}}},
        {"transform":[{"filter":"datum.k == 'Center Freq'"}],"mark":{"type":"rect","color":{"gradient":"linear","x1":0,"y1":0,"x2":0,"y2":1,"stops":[{"offset":0,"color":"#2a5a8e"},{"offset":0.04,"color":"#f4fafd"},{"offset":0.3,"color":"#e3f1fa"},{"offset":0.7,"color":"#c2dff2"},{"offset":0.9,"color":"#6c9dcd"},{"offset":1,"color":"#2c5b90"}]}}},
        {"transform":[{"filter":"datum.v != '' && datum.k != 'CF Step'"}],"mark":{"type":"text","fontSize":10.5,"fontWeight":"bold","color":"#13243a","align":"right","baseline":"middle","dx":43,"dy":-11},"encoding":{"text":{"field":"k"}}},
        {"transform":[{"filter":"datum.k == 'Auto Tune'"}],"mark":{"type":"text","fontSize":10.5,"fontWeight":"bold","color":"#13243a","align":"right","baseline":"middle","dx":43,"dy":-3},"encoding":{"text":{"field":"k"}}},
        {"transform":[{"filter":"datum.k == 'CF Step'"}],"mark":{"type":"text","fontSize":10.5,"fontWeight":"bold","color":"#13243a","align":"right","baseline":"middle","dx":43,"dy":-15},"encoding":{"text":{"field":"k"}}},
        {"transform":[{"filter":"datum.v != '' && datum.k != 'CF Step'"}],"mark":{"type":"text","fontSize":9,"color":"#26374a","align":"right","baseline":"middle","dx":43,"dy":5},"encoding":{"text":{"field":"v"}}},
        {"transform":[{"filter":"datum.k == 'CF Step'"}],"mark":{"type":"text","fontSize":9,"color":"#26374a","align":"right","baseline":"middle","dx":43,"dy":-3},"encoding":{"text":{"field":"v"}}},
        {"transform":[{"filter":"datum.k == 'CF Step'"}],"mark":{"type":"text","fontSize":9,"color":"#26374a","align":"right","baseline":"middle","dx":43,"dy":9},"encoding":{"text":{"field":"v2"}}},
        {"transform":[{"filter":"datum.k == 'CF Step'"}],"mark":{"type":"text","text":"Auto","fontSize":9,"color":"#1b3a8a","align":"left","baseline":"middle","dx":-42,"dy":9}},
        {"transform":[{"filter":"datum.k == 'CF Step'"}],"mark":{"type":"text","text":"____","fontSize":8,"color":"#1b3a8a","align":"left","baseline":"middle","dx":-42,"dy":8}}
       ]},
       {"width":91,"height":62,"data":{"values":[{}]},"mark":{"type":"rect","color":{"gradient":"linear","x1":0,"y1":0,"x2":0,"y2":1,"stops":[{"offset":0,"color":"#7aaad6"},{"offset":0.3,"color":"#5a8ec4"},{"offset":1,"color":"#3a6aa2"}]}}}
      ],"spacing":0}
     ],"spacing":0},
     {"width":594,"height":2,"data":{"values":[]},"mark":"rect"},
     {"hconcat":[
      {"width":379,"height":14,"data":{"values":[{}]},"layer":[
       {"mark":{"type":"rect","color":{"gradient":"linear","x1":0,"y1":0,"x2":0,"y2":1,"stops":[{"offset":0,"color":"#f3f3f3"},{"offset":1,"color":"#d9d9d9"}]}}},
       {"mark":{"type":"text","text":"MSG","fontSize":5.5,"color":"#777777","align":"left","dx":-185}}
      ]},
      {"width":28,"height":14,"data":{"values":[{}]},"layer":[
       {"mark":{"type":"rect","color":"#f2c318"}},
       {"mark":{"type":"text","text":"STATUS","fontSize":5.5,"color":"#7a5a00"}}
      ]},
      {"width":187,"height":14,"data":{"values":[{}]},"layer":[
       {"mark":{"type":"rect","color":{"gradient":"linear","x1":0,"y1":0,"x2":0,"y2":1,"stops":[{"offset":0,"color":"#f3f3f3"},{"offset":1,"color":"#d9d9d9"}]}}},
       {"mark":{"type":"text","text":"●","font":"DejaVu Sans","fontSize":11,"color":"#d9312a","dx":-87}},
       {"mark":{"type":"text","text":"×","font":"DejaVu Sans","fontSize":8,"fontWeight":"bold","color":"#ffffff","dx":-87}},
       {"mark":{"type":"text","text":"Align Now, All required","fontSize":9,"color":"#5c5c5c","align":"left","dx":-81}}
      ]}
     ],"spacing":0},
     {"width":594,"height":5,"data":{"values":[]},"mark":"rect"}
    ],"spacing":0},
    {"width":4,"height":452,"data":{"values":[]},"mark":"rect"}
   ],"spacing":0},
   {"width":601,"height":13,"data":{"values":[{}]},"mark":{"type":"rect","color":"#ffffff"}}
  ],"spacing":0},
  {"width":15,"height":478,"data":{"values":[{}]},"mark":{"type":"rect","color":"#ffffff"}}
 ],"spacing":0},
 {"hconcat":[
  {"width":21,"height":478,"data":{"values":[{}]},"mark":{"type":"rect","color":"#ffffff"}},
  {"vconcat":[
   {"width":601,"height":13,"data":{"values":[{}]},"mark":{"type":"rect","color":"#ffffff"}},
   {"hconcat":[
    {"width":3,"height":452,"data":{"values":[]},"mark":"rect"},
    {"vconcat":[
     {"width":594,"height":3,"data":{"values":[]},"mark":"rect"},
     {"width":594,"height":11,"data":{"values":[{}]},"layer":[
      {"mark":{"type":"rect","color":{"gradient":"linear","x1":0,"y1":0,"x2":0,"y2":1,"stops":[{"offset":0,"color":"#dfe8f1"},{"offset":1,"color":"#b4c6d9"}]}}},
      {"mark":{"type":"text","text":"■","fontSize":8,"color":"#34508a","align":"left","dx":-294}},
      {"mark":{"type":"text","text":"Agilent Spectrum Analyzer - Swept SA","fontSize":6.5,"color":"#3a4a5c","align":"left","dx":-280}},
      {"mark":{"type":"text","text":"▭ ▭","font":"DejaVu Sans","fontSize":8,"color":"#8ea2b8","align":"right","dx":276}},
      {"mark":{"type":"text","text":"███","font":"DejaVu Sans","fontSize":8,"color":"#d04a3e","align":"right","dx":295}}
     ]},
     {"hconcat":[
      {"vconcat":[
       {"width":503,"height":7,"data":{"values":[{}]},"layer":[
        {"mark":{"type":"rect","color":"#eceef0"}},
        {"mark":{"type":"text","text":"■","fontSize":7,"color":"#2a9a2a","align":"left","dx":-250}},
        {"mark":{"type":"text","text":"RL","fontSize":5.5,"color":"#555555","align":"left","dx":-242}},
        {"mark":{"type":"text","text":"RF","fontSize":5.5,"color":"#777777","align":"left","dx":-181}},
        {"mark":{"type":"text","text":"50 Ω   AC","fontSize":5.5,"color":"#777777","align":"left","dx":-152}},
        {"mark":{"type":"text","text":"SENSE:INT","fontSize":5.5,"color":"#777777","align":"left","dx":0}},
        {"mark":{"type":"text","text":"▲","fontSize":6,"color":"#d4a800","align":"left","dx":96}},
        {"mark":{"type":"text","text":"ALIGN OFF","fontSize":5.5,"color":"#777777","align":"left","dx":104}},
        {"mark":{"type":"text","text":"06:35:39 PM Jul 05, 2017","fontSize":5.5,"color":"#555555","align":"left","dx":161}}
       ]},
       {"hconcat":[
        {"vconcat":[
         {"width":219,"height":5,"data":{"values":[{}]},"mark":{"type":"rect","color":"#ffffff"}},
         {"width":219,"height":13,"data":{"values":[{}]},"mark":{"type":"text","text":"Center Freq 1.755000000 GHz","fontSize":11,"fontWeight":"bold","color":"#ffffff","align":"left","dx":-106}},
         {"width":219,"height":20,"data":{"values":[{}]},"layer":[
          {"mark":{"type":"rect","color":"#ffffff"}},
          {"mark":{"type":"text","text":"PNO: Wide","fontSize":7,"color":"#333333","align":"right","dx":87,"dy":-5}},
          {"mark":{"type":"text","text":"IFGain:Low","fontSize":7,"color":"#333333","align":"right","dx":86,"dy":4}}
         ]}
        ],"spacing":0},
        {"width":239,"height":38,"data":{"values":[{}]},"layer":[
         {"mark":{"type":"rect","color":"#ffffff"}},
         {"mark":{"type":"text","text":"Trig: Free Run","fontSize":8.5,"fontWeight":"bold","color":"#111111","align":"left","dx":-113,"dy":2}},
         {"mark":{"type":"text","text":"#Atten: 30 dB","fontSize":8.5,"fontWeight":"bold","color":"#111111","align":"left","dx":-113,"dy":13}},
         {"mark":{"type":"text","text":"Avg Type: RMS","fontSize":8.5,"fontWeight":"bold","color":"#111111","align":"left","dx":-19,"dy":-9}},
         {"mark":{"type":"text","text":"Avg|Hold:>100/100","fontSize":8.5,"fontWeight":"bold","color":"#111111","align":"left","dx":-22,"dy":1}},
         {"mark":{"type":"text","text":"TRACE","fontSize":5,"color":"#777777","align":"right","dx":118,"dy":-14}},
         {"mark":{"type":"text","text":"TYPE","fontSize":5,"color":"#777777","align":"right","dx":118,"dy":-7.5}},
         {"mark":{"type":"text","text":"DET","fontSize":5,"color":"#777777","align":"right","dx":118,"dy":-1}}
        ]},
        {"vconcat":[
         {"width":43,"height":2,"data":{"values":[{}]},"mark":{"type":"rect","color":"#ffffff"}},
         {"width":43,"height":19,"data":{"values":[{}]},"layer":[
          {"mark":{"type":"text","text":"1 2 3 4 5 6","fontSize":6,"fontWeight":"bold","color":"#8fd0a0","dy":-6}},
          {"mark":{"type":"text","text":"M W W W W W","fontSize":6,"color":"#e8e8e8"}},
          {"mark":{"type":"text","text":"A A A A A A","fontSize":6,"color":"#e8e8e8","dy":6}}
         ]},
         {"width":43,"height":17,"data":{"values":[{}]},"mark":{"type":"rect","color":"#ffffff"}}
        ],"spacing":0},
        {"width":2,"height":38,"data":{"values":[{}]},"mark":{"type":"rect","color":"#ffffff"}}
       ],"spacing":0},
       {"width":501,"height":370,"view":{"stroke":"#27e627","strokeWidth":2},
        "encoding":{"x":{"type":"quantitative","scale":{"domain":[1753.89474,1756.00421],"nice":false,"zero":false},"axis":null},"y":{"type":"quantitative","scale":{"domain":[-81.582,38.939],"nice":false,"zero":false},"axis":null}},
        "layer":[
         {"data":{"name":"gx4"},"mark":{"type":"rule","color":"#6c6c6c","strokeWidth":1},"encoding":{"x":{"field":"f"},"y":{"datum":28.19},"y2":{"datum":-71.81}}},
         {"data":{"name":"gyB"},"mark":{"type":"rule","color":"#6c6c6c","strokeWidth":1},"encoding":{"y":{"field":"db"},"x":{"datum":1754},"x2":{"datum":1756}}},
         {"data":{"name":"gyB"},"transform":[{"filter":"datum.lab != ''"}],"mark":{"type":"text","align":"right","baseline":"middle","dx":-3,"fontSize":8.5,"color":"#8a8a8a"},"encoding":{"y":{"field":"db"},"x":{"datum":1754},"text":{"field":"lab"}}},
         {"data":{"name":"t4"},"mark":{"type":"line","color":"#d4d43c","strokeWidth":1},"encoding":{"x":{"field":"f"},"y":{"field":"db"}}},
         {"data":{"values":[{}]},"layer":[
          {"mark":{"type":"rule","color":"#12c412","strokeWidth":1},"encoding":{"x":{"datum":1754},"x2":{"datum":1756},"y":{"datum":-13}}},
          {"mark":{"type":"text","text":"-13.00 dBm","fontSize":5,"color":"#12c412","align":"right","dx":-2,"dy":-3},"encoding":{"x":{"datum":1756},"y":{"datum":-13}}},
          {"mark":{"type":"text","text":"10 dB/div","fontSize":8.5,"color":"#a0a0a0","align":"left","baseline":"alphabetic","dx":-23,"dy":-4},"encoding":{"x":{"datum":1754},"y":{"datum":28.19}}},
          {"mark":{"type":"text","text":"Log","fontSize":8.5,"color":"#a0a0a0","align":"left","baseline":"alphabetic","dx":-23,"dy":5},"encoding":{"x":{"datum":1754},"y":{"datum":28.19}}},
          {"mark":{"type":"text","text":"Ref Offset 8.19 dB","fontSize":9,"color":"#e6e6e6","align":"left","baseline":"alphabetic","dx":35,"dy":-14},"encoding":{"x":{"datum":1754},"y":{"datum":28.19}}},
          {"mark":{"type":"text","text":"Ref 28.19 dBm","fontSize":11,"fontWeight":"bold","color":"#f0f0f0","align":"left","baseline":"alphabetic","dx":35,"dy":-3},"encoding":{"x":{"datum":1754},"y":{"datum":28.19}}},
          {"mark":{"type":"text","text":"Mkr1 1.755 000 GHz","fontSize":13.5,"fontWeight":"bold","color":"#2cf52c","align":"right","baseline":"alphabetic","dx":-1,"dy":-19},"encoding":{"x":{"datum":1756},"y":{"datum":28.19}}},
          {"mark":{"type":"text","text":"-16.200 dBm","fontSize":13.5,"fontWeight":"bold","color":"#2cf52c","align":"right","baseline":"alphabetic","dx":-1,"dy":-6},"encoding":{"x":{"datum":1756},"y":{"datum":28.19}}},
          {"mark":{"type":"text","text":"Center 1.755000 GHz","fontSize":11,"fontWeight":"bold","color":"#f2f2f2","align":"left","baseline":"alphabetic","dx":-23,"dy":15},"encoding":{"x":{"datum":1754},"y":{"datum":-71.81}}},
          {"mark":{"type":"text","text":"#Res BW 51 kHz","fontSize":11,"fontWeight":"bold","color":"#f2f2f2","align":"left","baseline":"alphabetic","dx":-23,"dy":27},"encoding":{"x":{"datum":1754},"y":{"datum":-71.81}}},
          {"mark":{"type":"text","text":"#VBW 200 kHz*","fontSize":11,"fontWeight":"bold","color":"#f2f2f2","align":"left","baseline":"alphabetic","dx":158,"dy":27},"encoding":{"x":{"datum":1754},"y":{"datum":-71.81}}},
          {"mark":{"type":"text","text":"Span 2.000 MHz","fontSize":11,"fontWeight":"bold","color":"#f2f2f2","align":"right","baseline":"alphabetic","dx":-1,"dy":15},"encoding":{"x":{"datum":1756},"y":{"datum":-71.81}}},
          {"mark":{"type":"text","text":"Sweep  1.000 ms (1001 pts)","fontSize":11,"fontWeight":"bold","color":"#f2f2f2","align":"right","baseline":"alphabetic","dx":-1,"dy":27},"encoding":{"x":{"datum":1756},"y":{"datum":-71.81}}}
         ]},
         {"data":{"values":[{"f":1755.0,"db":-16.2}]},"encoding":{"x":{"field":"f"},"y":{"field":"db"}},"layer":[
          {"mark":{"type":"point","shape":"M0,-2L0.5,-1L0,0L-0.5,-1Z","size":196,"filled":true,"color":"#22ff22","opacity":1}},
          {"mark":{"type":"text","text":"1","fontSize":9,"fontWeight":"bold","color":"#dcd43a","dx":9,"dy":-14}}
         ]}
        ]}
      ],"spacing":0},
      {"vconcat":[
       {"width":91,"height":25,"data":{"values":[{}]},"layer":[
        {"mark":{"type":"rect","color":{"gradient":"linear","x1":0,"y1":0,"x2":0,"y2":1,"stops":[{"offset":0,"color":"#1f4676"},{"offset":0.15,"color":"#3d6fa6"},{"offset":1,"color":"#2a5b92"}]}}},
        {"mark":{"type":"text","text":"Frequency","fontSize":10,"color":"#eef3f8","dy":1}}
       ]},
       {"width":91,"height":330,"data":{"name":"k4"},"encoding":{"y":{"field":"k","type":"nominal","sort":null,"axis":null,"scale":{"paddingInner":0,"paddingOuter":0}}},"layer":[
        {"mark":{"type":"rect","color":{"gradient":"linear","x1":0,"y1":0,"x2":0,"y2":1,"stops":[{"offset":0,"color":"#2a5a8e"},{"offset":0.04,"color":"#cfe6f5"},{"offset":0.16,"color":"#a8d0ec"},{"offset":0.62,"color":"#8dbee2"},{"offset":0.9,"color":"#5487bd"},{"offset":1,"color":"#2c5b90"}]}}},
        {"transform":[{"filter":"datum.k == 'Center Freq'"}],"mark":{"type":"rect","color":{"gradient":"linear","x1":0,"y1":0,"x2":0,"y2":1,"stops":[{"offset":0,"color":"#2a5a8e"},{"offset":0.04,"color":"#f4fafd"},{"offset":0.3,"color":"#e3f1fa"},{"offset":0.7,"color":"#c2dff2"},{"offset":0.9,"color":"#6c9dcd"},{"offset":1,"color":"#2c5b90"}]}}},
        {"transform":[{"filter":"datum.v != '' && datum.k != 'CF Step'"}],"mark":{"type":"text","fontSize":10.5,"fontWeight":"bold","color":"#13243a","align":"right","baseline":"middle","dx":43,"dy":-11},"encoding":{"text":{"field":"k"}}},
        {"transform":[{"filter":"datum.k == 'Auto Tune'"}],"mark":{"type":"text","fontSize":10.5,"fontWeight":"bold","color":"#13243a","align":"right","baseline":"middle","dx":43,"dy":-3},"encoding":{"text":{"field":"k"}}},
        {"transform":[{"filter":"datum.k == 'CF Step'"}],"mark":{"type":"text","fontSize":10.5,"fontWeight":"bold","color":"#13243a","align":"right","baseline":"middle","dx":43,"dy":-15},"encoding":{"text":{"field":"k"}}},
        {"transform":[{"filter":"datum.v != '' && datum.k != 'CF Step'"}],"mark":{"type":"text","fontSize":9,"color":"#26374a","align":"right","baseline":"middle","dx":43,"dy":5},"encoding":{"text":{"field":"v"}}},
        {"transform":[{"filter":"datum.k == 'CF Step'"}],"mark":{"type":"text","fontSize":9,"color":"#26374a","align":"right","baseline":"middle","dx":43,"dy":-3},"encoding":{"text":{"field":"v"}}},
        {"transform":[{"filter":"datum.k == 'CF Step'"}],"mark":{"type":"text","fontSize":9,"color":"#26374a","align":"right","baseline":"middle","dx":43,"dy":9},"encoding":{"text":{"field":"v2"}}},
        {"transform":[{"filter":"datum.k == 'CF Step'"}],"mark":{"type":"text","text":"Auto","fontSize":9,"color":"#1b3a8a","align":"left","baseline":"middle","dx":-42,"dy":9}},
        {"transform":[{"filter":"datum.k == 'CF Step'"}],"mark":{"type":"text","text":"____","fontSize":8,"color":"#1b3a8a","align":"left","baseline":"middle","dx":-42,"dy":8}}
       ]},
       {"width":91,"height":62,"data":{"values":[{}]},"mark":{"type":"rect","color":{"gradient":"linear","x1":0,"y1":0,"x2":0,"y2":1,"stops":[{"offset":0,"color":"#7aaad6"},{"offset":0.3,"color":"#5a8ec4"},{"offset":1,"color":"#3a6aa2"}]}}}
      ],"spacing":0}
     ],"spacing":0},
     {"width":594,"height":2,"data":{"values":[]},"mark":"rect"},
     {"hconcat":[
      {"width":379,"height":14,"data":{"values":[{}]},"layer":[
       {"mark":{"type":"rect","color":{"gradient":"linear","x1":0,"y1":0,"x2":0,"y2":1,"stops":[{"offset":0,"color":"#f3f3f3"},{"offset":1,"color":"#d9d9d9"}]}}},
       {"mark":{"type":"text","text":"MSG","fontSize":5.5,"color":"#777777","align":"left","dx":-185}}
      ]},
      {"width":28,"height":14,"data":{"values":[{}]},"layer":[
       {"mark":{"type":"rect","color":"#f2c318"}},
       {"mark":{"type":"text","text":"STATUS","fontSize":5.5,"color":"#7a5a00"}}
      ]},
      {"width":187,"height":14,"data":{"values":[{}]},"layer":[
       {"mark":{"type":"rect","color":{"gradient":"linear","x1":0,"y1":0,"x2":0,"y2":1,"stops":[{"offset":0,"color":"#f3f3f3"},{"offset":1,"color":"#d9d9d9"}]}}},
       {"mark":{"type":"text","text":"●","font":"DejaVu Sans","fontSize":11,"color":"#d9312a","dx":-87}},
       {"mark":{"type":"text","text":"×","font":"DejaVu Sans","fontSize":8,"fontWeight":"bold","color":"#ffffff","dx":-87}},
       {"mark":{"type":"text","text":"Align Now, All required","fontSize":9,"color":"#5c5c5c","align":"left","dx":-81}}
      ]}
     ],"spacing":0},
     {"width":594,"height":5,"data":{"values":[]},"mark":"rect"}
    ],"spacing":0},
    {"width":4,"height":452,"data":{"values":[]},"mark":"rect"}
   ],"spacing":0},
   {"width":601,"height":13,"data":{"values":[{}]},"mark":{"type":"rect","color":"#ffffff"}}
  ],"spacing":0},
  {"width":16,"height":478,"data":{"values":[{}]},"mark":{"type":"rect","color":"#ffffff"}}
 ],"spacing":0}
],"spacing":2},
{"hconcat":[
 {"width":634,"height":48,"data":{"values":[{}]},"layer":[{"mark":{"type":"rect","color":"#c0c0c0"}},{"mark":{"type":"text","text":"WCDMA 1900-LCH","fontSize":27,"color":"#000000"}}]},
 {"width":638,"height":48,"data":{"values":[{}]},"layer":[{"mark":{"type":"rect","color":"#c0c0c0"}},{"mark":{"type":"text","text":"WCDMA 1900-HCH","fontSize":27,"color":"#000000"}}]}
],"spacing":2}
]
}
